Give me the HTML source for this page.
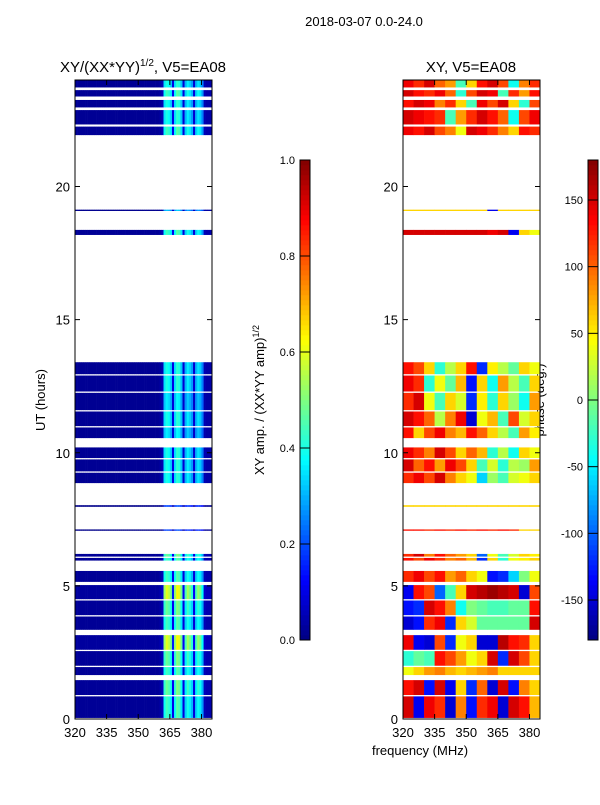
<!DOCTYPE html>
<html><head><meta charset="utf-8"><style>
body{margin:0;background:#fff}
svg text{font-family:"Liberation Sans",sans-serif;fill:#000}
</style></head><body>
<svg id="s" width="600" height="800" xmlns="http://www.w3.org/2000/svg">
<text x="364" y="26" font-size="13" text-anchor="middle">2018-03-07 0.0-24.0</text>
<text x="143" y="72" font-size="15" text-anchor="middle">XY/(XX*YY)<tspan font-size="10" dy="-6">1/2</tspan><tspan dy="6">, V5=EA08</tspan></text>
<text x="471" y="72" font-size="15" text-anchor="middle">XY, V5=EA08</text>
<text x="45" y="400" font-size="13" text-anchor="middle" transform="rotate(-90 45 400)">UT (hours)</text>
<text x="420" y="755" font-size="13" text-anchor="middle">frequency (MHz)</text>
<text x="264" y="400" font-size="13" text-anchor="middle" transform="rotate(-90 264 400)">XY amp. / (XX*YY amp)<tspan font-size="9" dy="-5">1/2</tspan></text>
<text x="544" y="400" font-size="13" text-anchor="middle" transform="rotate(-90 544 400)">phase (deg.)</text>
<g id="g1"></g>
<g id="g2"></g>
<g id="ax"></g>
</svg>
<script>
const rowStart=[23.72,23.38,22.97,22.33,21.93,19.08,18.18,12.95,12.3,11.6,11.0,10.55,9.8,9.3,8.86,7.97,7.07,6.1,5.95,5.15,4.5,3.9,3.35,2.6,2.0,1.65,0.9,0.04];
const rowEnd=[24.0,23.62,23.25,22.87,22.25,19.13,18.37,13.4,12.9,12.25,11.55,10.95,10.2,9.75,9.25,8.03,7.12,6.2,6.05,5.56,5.03,4.45,3.85,3.15,2.55,1.95,1.46,0.85];
const rowGain=[1,1.1,1,1,1.1,0.8,1.1,1,1,0.9,1,0.9,1,1,1,0.5,0.5,1.2,1.1,1.1,1.5,1.2,1.1,1.5,1.2,1.1,1.2,1.1];
const chanAmp=[0.02,0.02,0.02,0.02,0.02,0.02,0.02,0.02,0.02,0.02,0.02,0.02,0.02,0.02,0.02,0.02,0.02,0.02,0.02,0.02,0.02,0.02,0.02,0.02,0.02,0.02,0.02,0.02,0.02,0.02,0.02,0.02,0.02,0.02,0.02,0.02,0.02,0.02,0.02,0.02,0.03,0.05,0.35,0.4,0.38,0.33,0.1,0.35,0.42,0.4,0.32,0.08,0.3,0.36,0.33,0.28,0.08,0.3,0.35,0.32,0.25,0.05,0.04,0.04,0.04];
const phaseRows=[
[140,120,150,100,80,-20,60,130,150,110,-40,90,120],
[150,130,120,140,100,-30,110,150,140,-20,120,80,130],
[130,150,140,90,120,60,-20,140,110,150,60,-30,110],
[150,140,130,120,-20,80,120,150,130,100,-40,110,140],
[140,130,150,110,90,40,150,140,120,90,60,130,120],
[60,60,60,60,60,60,60,60,-140,60,60,60,60],
[150,150,150,150,150,150,150,150,140,150,-140,60,40],
[130,110,60,-30,20,60,130,-120,50,20,-10,60,40],
[140,120,-30,40,-10,70,-130,60,-40,80,20,-20,60],
[120,150,40,-20,60,30,-120,50,-30,60,10,-40,80],
[150,130,100,20,90,140,-150,40,70,-20,110,30,60],
[130,60,110,140,90,70,130,100,60,20,-20,80,50],
[140,120,90,150,110,60,100,70,-30,20,-40,60,40],
[150,100,130,80,140,110,60,-20,30,-30,20,10,80],
[120,140,110,150,90,60,40,-60,10,-20,30,40,60],
[60,60,60,60,60,60,60,60,60,60,60,60,60],
[130,130,120,130,120,130,120,130,120,130,120,60,60],
[120,150,90,130,100,80,60,-100,40,-20,30,60,50],
[130,110,140,120,90,100,70,-120,60,-30,40,50,60],
[120,140,110,130,80,100,60,40,-130,-120,-60,0,40],
[-140,130,110,-100,-20,60,150,160,170,160,150,-150,110],
[-130,-120,150,130,90,-40,0,-10,-20,-20,-10,-10,130],
[-150,-130,120,140,-120,60,30,-10,-10,-10,-10,-10,150],
[140,-140,-150,110,-120,40,60,-150,-150,160,130,120,60],
[-30,-10,-20,130,110,80,40,60,150,-120,150,110,60],
[40,60,80,90,70,60,70,80,90,60,60,60,60],
[130,150,-130,150,-140,60,-120,100,-150,150,-130,90,60],
[150,-140,140,120,-150,90,-130,120,140,-150,150,130,70]];
const yTicks=[0,5,10,15,20];
const xTicks=[320,335,350,365,380];
const ampTicks=[0.0,0.2,0.4,0.6,0.8,1.0];
const phTicks=[-150,-100,-50,0,50,100,150];

const NS='http://www.w3.org/2000/svg';
const yT=h=>719-h*26.625;
const x1=f=>75+(f-320)*137/65;
const x2=f=>403+(f-320)*137/65;
function jet(v){v=Math.max(0,Math.min(1,v));
 const c=t=>Math.round(255*Math.max(0,Math.min(1,1.5-Math.abs(4*v-t))));
 return `rgb(${c(3)},${c(2)},${c(1)})`;}
function mk(p,tag,a){const e=document.createElementNS(NS,tag);for(const k in a)e.setAttribute(k,a[k]);p.appendChild(e);return e;}
const g1=document.getElementById('g1'),g2=document.getElementById('g2'),ax=document.getElementById('ax');
rowStart.forEach((t0,i)=>{
 const t1=rowEnd[i];
 chanAmp.forEach((a,c)=>{
  const r=mk(g1,'rect',{x:x1(320+c),y:yT(t1),width:x1(321+c)-x1(320+c)+0.3,height:yT(t0)-yT(t1),fill:jet(a*rowGain[i])});
  
  
 });
 phaseRows[i].forEach((p,b)=>{
  const r=mk(g2,'rect',{x:x2(320+5*b),y:yT(t1),width:x2(325+5*b)-x2(320+5*b)+0.3,height:yT(t0)-yT(t1),fill:jet((p+180)/360)});
  
  
 });
});
[[75,g1],[403,g2]].forEach(([x0],k)=>{
 const fr=mk(ax,'rect',{x:x0,y:80,width:137,height:639,fill:'none',stroke:'#000','stroke-width':1});
 
 
 yTicks.forEach(h=>{const y=yT(h);
  mk(ax,'line',{x1:x0,y1:y,x2:x0+5,y2:y,stroke:'#000'});mk(ax,'line',{x1:x0+137,y1:y,x2:x0+132,y2:y,stroke:'#000'});
  const t=mk(ax,'text',{x:x0-5,y:y+5,'font-size':13,'text-anchor':'end'});t.textContent=h;
  
  
 });
 xTicks.forEach(f=>{const x=k?x2(f):x1(f);
  mk(ax,'line',{x1:x,y1:719,x2:x,y2:714,stroke:'#000'});mk(ax,'line',{x1:x,y1:80,x2:x,y2:85,stroke:'#000'});
  const t=mk(ax,'text',{x:x,y:737,'font-size':13,'text-anchor':'middle'});t.textContent=f;
  
  
 });
});
[[300,ampTicks,v=>v,'amp-colorbar'],[588,phTicks,v=>(v+180)/360,'phase-colorbar']].forEach(([cx,ticks,norm,nm])=>{
 for(let i=0;i<96;i++){mk(ax,'rect',{x:cx,y:640-(i+1)*5,width:10,height:5.3,fill:jet((i+0.5)/96)});}
 const fr=mk(ax,'rect',{x:cx,y:160,width:10,height:480,fill:'none',stroke:'#000'});
 
 
 ticks.forEach(v=>{const y=640-norm(v)*480;
  mk(ax,'line',{x1:cx,y1:y,x2:cx+10,y2:y,stroke:'#000'});
  const t=mk(ax,'text',{x:cx-5,y:y+4,'font-size':11,'text-anchor':'end'});t.textContent=nm==='amp-colorbar'?v.toFixed(1):v;
  
  
 });
});
</script>
</body></html>
